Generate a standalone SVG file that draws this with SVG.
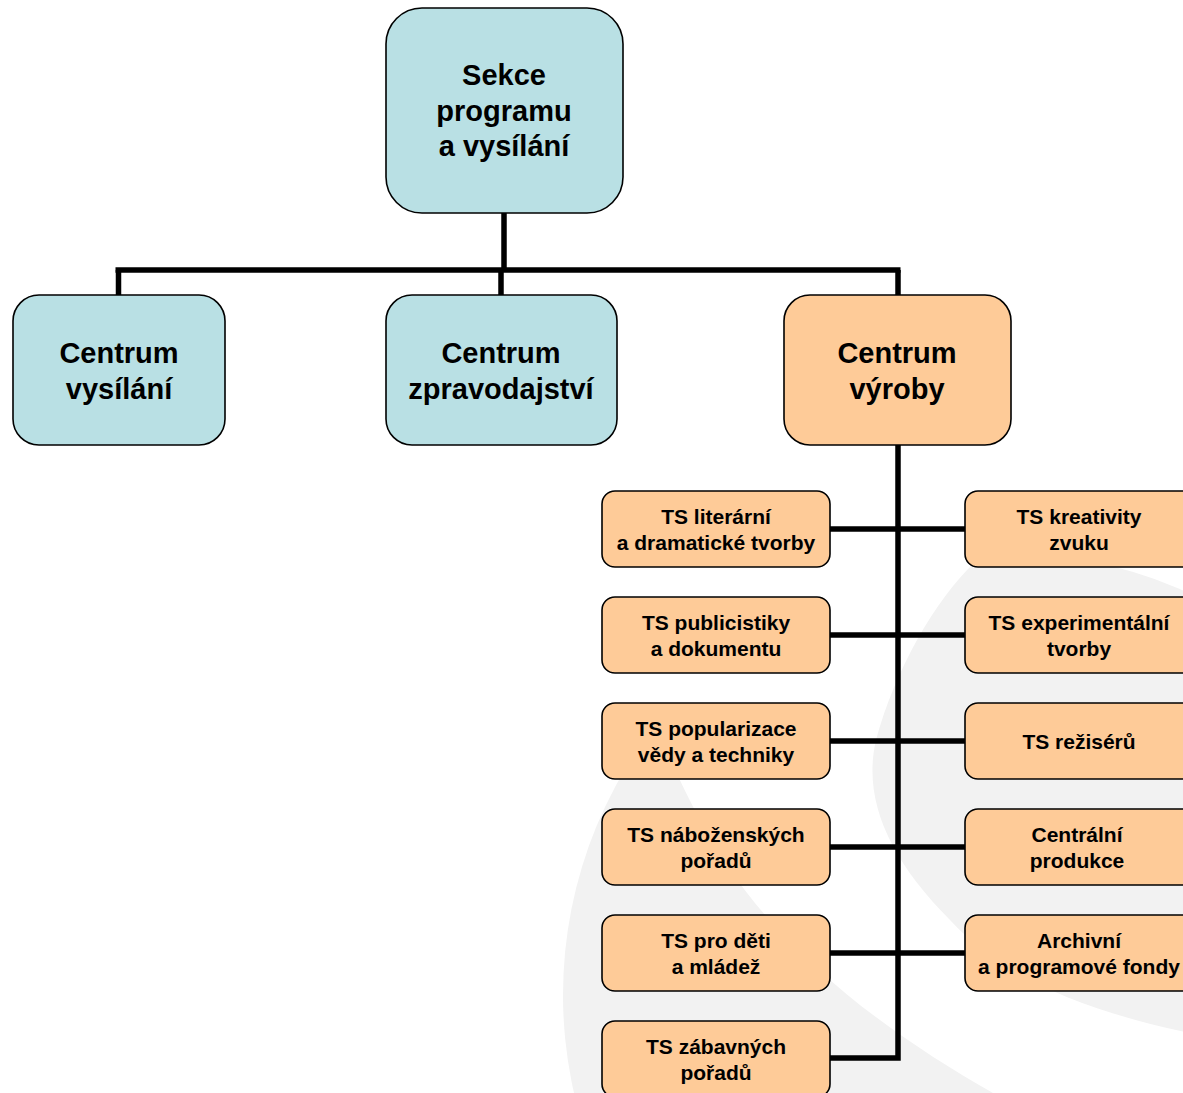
<svg xmlns="http://www.w3.org/2000/svg" width="1183" height="1093" viewBox="0 0 1183 1093">
<style>
.t{fill:#b9e0e4;stroke:#000;stroke-width:1.6}
.p{fill:#fecb98;stroke:#000;stroke-width:1.6}
.l{font-family:"Liberation Sans",Arial,sans-serif;font-weight:bold;fill:#000;text-anchor:middle}
.b{font-size:29px}
.s{font-size:21px}
.c{fill:none;stroke:#000;stroke-width:5.5;stroke-linejoin:miter;stroke-linecap:butt}
</style>
<rect width="1183" height="1093" fill="#fff"/>
<g id="watermark">
<circle cx="1005" cy="995" r="442" fill="#f2f2f2"/>
<path d="M993 1093 C900 1040 800 970 730 870 C690 810 660 740 640 680 L640 520 L990 520 L975 562 C935 600 895 670 876 740 C862 800 890 860 950 920 C1000 975 1080 1010 1190 1033 L1190 1100 L993 1100 Z" fill="#fff"/>
</g>
<g id="connectors">
<path class="c" d="M504 213 V270"/>
<path class="c" d="M115.5 270 H900.5"/>
<path class="c" d="M118.5 270 V295"/>
<path class="c" d="M501 270 V295"/>
<path class="c" d="M898 270 V295"/>
<path class="c" d="M898 445 V1058 H830"/>
<path class="c" d="M830 529 H965"/>
<path class="c" d="M830 635 H965"/>
<path class="c" d="M830 741 H965"/>
<path class="c" d="M830 847 H965"/>
<path class="c" d="M830 953 H965"/>
</g>
<g id="n-sekce">
<rect class="t" x="386" y="8" width="237" height="205" rx="36"/>
<text class="l b" x="504" y="85">Sekce</text>
<text class="l b" x="504" y="121">programu</text>
<text class="l b" x="504" y="156">a vysílání</text>
</g>
<g id="n-vysilani">
<rect class="t" x="13" y="295" width="212" height="150" rx="26"/>
<text class="l b" x="119" y="363">Centrum</text>
<text class="l b" x="119" y="399">vysílání</text>
</g>
<g id="n-zpravodajstvi">
<rect class="t" x="386" y="295" width="231" height="150" rx="26"/>
<text class="l b" x="501" y="363">Centrum</text>
<text class="l b" x="501" y="399">zpravodajství</text>
</g>
<g id="n-vyroby">
<rect class="p" x="784" y="295" width="227" height="150" rx="26"/>
<text class="l b" x="897" y="363">Centrum</text>
<text class="l b" x="897" y="399">výroby</text>
</g>
<g id="n-literarni">
<rect class="p" x="602" y="491" width="228" height="76" rx="13"/>
<text class="l s" x="716" y="524">TS literární</text>
<text class="l s" x="716" y="550">a dramatické tvorby</text>
</g>
<g id="n-publicistiky">
<rect class="p" x="602" y="597" width="228" height="76" rx="13"/>
<text class="l s" x="716" y="630">TS publicistiky</text>
<text class="l s" x="716" y="656">a dokumentu</text>
</g>
<g id="n-popularizace">
<rect class="p" x="602" y="703" width="228" height="76" rx="13"/>
<text class="l s" x="716" y="736">TS popularizace</text>
<text class="l s" x="716" y="762">vědy a techniky</text>
</g>
<g id="n-nabozenskych">
<rect class="p" x="602" y="809" width="228" height="76" rx="13"/>
<text class="l s" x="716" y="842">TS náboženských</text>
<text class="l s" x="716" y="868">pořadů</text>
</g>
<g id="n-deti">
<rect class="p" x="602" y="915" width="228" height="76" rx="13"/>
<text class="l s" x="716" y="948">TS pro děti</text>
<text class="l s" x="716" y="974">a mládež</text>
</g>
<g id="n-zabavnych">
<rect class="p" x="602" y="1021" width="228" height="76" rx="13"/>
<text class="l s" x="716" y="1054">TS zábavných</text>
<text class="l s" x="716" y="1080">pořadů</text>
</g>
<g id="n-kreativity">
<rect class="p" x="965" y="491" width="232" height="76" rx="13"/>
<text class="l s" x="1079" y="524">TS kreativity</text>
<text class="l s" x="1079" y="550">zvuku</text>
</g>
<g id="n-experimentalni">
<rect class="p" x="965" y="597" width="232" height="76" rx="13"/>
<text class="l s" x="1079" y="630">TS experimentální</text>
<text class="l s" x="1079" y="656">tvorby</text>
</g>
<g id="n-reziseru">
<rect class="p" x="965" y="703" width="232" height="76" rx="13"/>
<text class="l s" x="1079" y="749">TS režisérů</text>
</g>
<g id="n-centralni">
<rect class="p" x="965" y="809" width="232" height="76" rx="13"/>
<text class="l s" x="1077" y="842">Centrální</text>
<text class="l s" x="1077" y="868">produkce</text>
</g>
<g id="n-archivni">
<rect class="p" x="965" y="915" width="232" height="76" rx="13"/>
<text class="l s" x="1079" y="948">Archivní</text>
<text class="l s" x="1079" y="974">a programové fondy</text>
</g>
</svg>
